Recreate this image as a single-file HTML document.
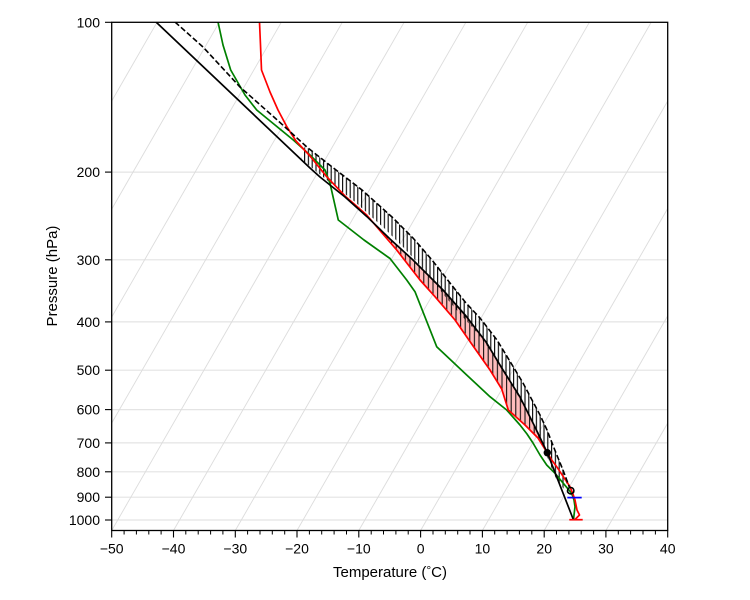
<!DOCTYPE html>
<html><head><meta charset="utf-8">
<style>html,body{margin:0;padding:0;background:#fff}svg{display:block}</style>
</head>
<body>
<svg width="750" height="600" viewBox="0 0 750 600" xmlns="http://www.w3.org/2000/svg" font-family="'Liberation Sans', Arial, sans-serif">
<defs>
  <clipPath id="c"><rect x="111.7" y="22.3" width="556" height="508.2"/></clipPath>
  <pattern id="vh" width="3.8" height="20" patternUnits="userSpaceOnUse">
    <line x1="0.6" y1="0" x2="0.6" y2="20" stroke="#000" stroke-width="1.1"/>
  </pattern>
  <pattern id="vh2" width="4.6" height="20" patternUnits="userSpaceOnUse">
    <line x1="0.6" y1="0" x2="0.6" y2="20" stroke="#000" stroke-width="1"/>
  </pattern>
</defs>
<rect width="750" height="600" fill="#fff"/>
<g clip-path="url(#c)">
  <!-- horizontal grid -->
  <g stroke="#e4e4e4" stroke-width="1.2">
    <line x1="111.7" x2="667.7" y1="172.1" y2="172.1"/>
    <line x1="111.7" x2="667.7" y1="259.8" y2="259.8"/>
    <line x1="111.7" x2="667.7" y1="321.9" y2="321.9"/>
    <line x1="111.7" x2="667.7" y1="370.2" y2="370.2"/>
    <line x1="111.7" x2="667.7" y1="409.6" y2="409.6"/>
    <line x1="111.7" x2="667.7" y1="442.9" y2="442.9"/>
    <line x1="111.7" x2="667.7" y1="471.8" y2="471.8"/>
    <line x1="111.7" x2="667.7" y1="497.2" y2="497.2"/>
    <line x1="111.7" x2="667.7" y1="520.0" y2="520.0"/>
  </g>
  <!-- isotherms -->
  <g stroke="#dcdcdc" stroke-width="0.9">
    <line x1="-135.4" y1="530.5" x2="157.0" y2="22.3"/>
    <line x1="-73.2" y1="530.5" x2="219.2" y2="22.3"/>
    <line x1="-11.1" y1="530.5" x2="281.3" y2="22.3"/>
    <line x1="49.9" y1="530.5" x2="342.3" y2="22.3"/>
    <line x1="111.7" y1="530.5" x2="404.1" y2="22.3"/>
    <line x1="173.5" y1="530.5" x2="465.9" y2="22.3"/>
    <line x1="235.3" y1="530.5" x2="527.7" y2="22.3"/>
    <line x1="297.0" y1="530.5" x2="589.4" y2="22.3"/>
    <line x1="358.8" y1="530.5" x2="651.2" y2="22.3"/>
    <line x1="420.6" y1="530.5" x2="713.0" y2="22.3"/>
    <line x1="482.4" y1="530.5" x2="774.8" y2="22.3"/>
    <line x1="544.2" y1="530.5" x2="836.6" y2="22.3"/>
    <line x1="605.9" y1="530.5" x2="898.3" y2="22.3"/>
  </g>

  <!-- pink CAPE region -->
  <polygon fill="#ffbcbc" stroke="none" points="367,216.7 390,239 413,260 443,290 466,316 486,342 503,370 520,397 534,425 547.3,452.7 546.5,451.5 538,438 525,425 508.3,410 501.7,389 490,370 471,343 455,320 435,296.7 420,280 396.7,250 382,233 366.7,215"/>
  <polygon fill="url(#vh2)" stroke="none" points="367,216.7 390,239 413,260 443,290 466,316 486,342 503,370 520,397 534,425 547.3,452.7 546.5,451.5 538,438 525,425 508.3,410 501.7,389 490,370 471,343 455,320 435,296.7 420,280 396.7,250 382,233 366.7,215"/>

  <!-- ticked strip under dashed line -->
  <polygon fill="url(#vh)" stroke="none" points="305,146 336,170 362,190 392,217 413,238 432,260 450,283 466,303 480,318 497,340 514,368 523,383 532,400 540,415 547,430 556,453 563,470 567,482 564,489 557,481 550,464 541,441 534,426 526,411 517,394 508,379 491,351 474,329 460,314 443,294 425,271 405,249 384,228 354,201 328,181 301,159"/>

  <!-- green dewpoint -->
  <polyline fill="none" stroke="#008000" stroke-width="1.7" stroke-linejoin="round" points="218,22 223,45 230.7,70 245,95 256.7,110 275,125 293.3,140 310,155 325,170 330,183.3 338.3,220 364,240 390,258.5 406.7,280 415,291.7 436.7,346.7 466.7,375 490,396.7 506.7,410 520,425 527,434 533,443 540,455 546.7,465 555,473.3 563.3,483.3 571.7,493.3 574,500 575,506.7 573.5,519.5"/>

  <!-- red temperature -->
  <polyline fill="none" stroke="#ff0000" stroke-width="1.7" stroke-linejoin="round" points="259.5,22 260.5,45 261.5,70 270,92 278,110 287,127 296,141 310,156 326.7,176.7 345,196 366.7,215 382,233 396.7,250 420,280 435,296.7 455,320 471,343 490,370 501.7,389 508.3,410 525,425 538,438 546.5,451.5 551.7,460 556.7,466.7 563.3,476.7 570,486.7 573.3,495 575,500 577,510 579.5,515 575,519.5"/>

  <!-- black parcel -->
  <polyline fill="none" stroke="#000" stroke-width="1.7" stroke-linejoin="round" points="156,22 310,168 320,177 345,197 367,216.7 390,239 413,260 443,290 466,316 486,342 503,370 520,397 534,425 547.3,452.7 573.5,520"/>

  <!-- dashed -->
  <polyline fill="none" stroke="#000" stroke-width="1.6" stroke-dasharray="5.5 2.5" points="175,22 203,47 240,87 275,118 308,148 336,170 362,190 392,217 413,238 432,260 450,283 466,303 480,318 497,340 514,368 523,383 532,400 540,415 547,430 556,453 563,470 569.5,487.5"/>

  <!-- markers -->
  <circle cx="547.3" cy="452.7" r="3.7" fill="#000"/>
  <circle cx="570.7" cy="490.7" r="3.2" fill="none" stroke="#000" stroke-width="1.6"/>
  <line x1="567.3" y1="497.6" x2="581.7" y2="497.6" stroke="#0000ff" stroke-width="1.7"/>
  <line x1="569.3" y1="519.7" x2="582.7" y2="519.7" stroke="#ff0000" stroke-width="1.7"/>
</g>

<!-- spines -->
<rect x="111.7" y="22.3" width="556" height="508.2" fill="none" stroke="#000" stroke-width="1.3"/>

<!-- bottom ticks -->
<g stroke="#000" stroke-width="1.1">
  <line x1="111.7" y1="530.5" x2="111.7" y2="537.5"/>
  <line x1="173.5" y1="530.5" x2="173.5" y2="537.5"/>
  <line x1="235.3" y1="530.5" x2="235.3" y2="537.5"/>
  <line x1="297.0" y1="530.5" x2="297.0" y2="537.5"/>
  <line x1="358.8" y1="530.5" x2="358.8" y2="537.5"/>
  <line x1="420.6" y1="530.5" x2="420.6" y2="537.5"/>
  <line x1="482.4" y1="530.5" x2="482.4" y2="537.5"/>
  <line x1="544.2" y1="530.5" x2="544.2" y2="537.5"/>
  <line x1="605.9" y1="530.5" x2="605.9" y2="537.5"/>
  <line x1="667.7" y1="530.5" x2="667.7" y2="537.5"/>
</g>
<g stroke="#000" stroke-width="1">
  <line x1="124.1" y1="530.5" x2="124.1" y2="534.5"/>
  <line x1="136.4" y1="530.5" x2="136.4" y2="534.5"/>
  <line x1="148.8" y1="530.5" x2="148.8" y2="534.5"/>
  <line x1="161.1" y1="530.5" x2="161.1" y2="534.5"/>
  <line x1="185.8" y1="530.5" x2="185.8" y2="534.5"/>
  <line x1="198.2" y1="530.5" x2="198.2" y2="534.5"/>
  <line x1="210.6" y1="530.5" x2="210.6" y2="534.5"/>
  <line x1="222.9" y1="530.5" x2="222.9" y2="534.5"/>
  <line x1="247.6" y1="530.5" x2="247.6" y2="534.5"/>
  <line x1="260.0" y1="530.5" x2="260.0" y2="534.5"/>
  <line x1="272.3" y1="530.5" x2="272.3" y2="534.5"/>
  <line x1="284.7" y1="530.5" x2="284.7" y2="534.5"/>
  <line x1="309.4" y1="530.5" x2="309.4" y2="534.5"/>
  <line x1="321.7" y1="530.5" x2="321.7" y2="534.5"/>
  <line x1="334.1" y1="530.5" x2="334.1" y2="534.5"/>
  <line x1="346.5" y1="530.5" x2="346.5" y2="534.5"/>
  <line x1="371.2" y1="530.5" x2="371.2" y2="534.5"/>
  <line x1="383.5" y1="530.5" x2="383.5" y2="534.5"/>
  <line x1="395.9" y1="530.5" x2="395.9" y2="534.5"/>
  <line x1="408.2" y1="530.5" x2="408.2" y2="534.5"/>
  <line x1="433.0" y1="530.5" x2="433.0" y2="534.5"/>
  <line x1="445.3" y1="530.5" x2="445.3" y2="534.5"/>
  <line x1="457.7" y1="530.5" x2="457.7" y2="534.5"/>
  <line x1="470.0" y1="530.5" x2="470.0" y2="534.5"/>
  <line x1="494.7" y1="530.5" x2="494.7" y2="534.5"/>
  <line x1="507.1" y1="530.5" x2="507.1" y2="534.5"/>
  <line x1="519.4" y1="530.5" x2="519.4" y2="534.5"/>
  <line x1="531.8" y1="530.5" x2="531.8" y2="534.5"/>
  <line x1="556.5" y1="530.5" x2="556.5" y2="534.5"/>
  <line x1="568.9" y1="530.5" x2="568.9" y2="534.5"/>
  <line x1="581.2" y1="530.5" x2="581.2" y2="534.5"/>
  <line x1="593.6" y1="530.5" x2="593.6" y2="534.5"/>
  <line x1="618.3" y1="530.5" x2="618.3" y2="534.5"/>
  <line x1="630.6" y1="530.5" x2="630.6" y2="534.5"/>
  <line x1="643.0" y1="530.5" x2="643.0" y2="534.5"/>
  <line x1="655.4" y1="530.5" x2="655.4" y2="534.5"/>
</g>

<!-- left ticks -->
<g stroke="#000" stroke-width="1.1">
  <line x1="105" y1="22.3" x2="111.7" y2="22.3"/>
  <line x1="105" y1="172.1" x2="111.7" y2="172.1"/>
  <line x1="105" y1="259.8" x2="111.7" y2="259.8"/>
  <line x1="105" y1="321.9" x2="111.7" y2="321.9"/>
  <line x1="105" y1="370.2" x2="111.7" y2="370.2"/>
  <line x1="105" y1="409.6" x2="111.7" y2="409.6"/>
  <line x1="105" y1="442.9" x2="111.7" y2="442.9"/>
  <line x1="105" y1="471.8" x2="111.7" y2="471.8"/>
  <line x1="105" y1="497.2" x2="111.7" y2="497.2"/>
  <line x1="105" y1="520.0" x2="111.7" y2="520.0"/>
</g>

<!-- y tick labels -->
<g font-size="14" fill="#000" text-anchor="end">
  <text x="100" y="27.3">100</text>
  <text x="100" y="177.1">200</text>
  <text x="100" y="264.8">300</text>
  <text x="100" y="326.9">400</text>
  <text x="100" y="375.2">500</text>
  <text x="100" y="414.6">600</text>
  <text x="100" y="447.9">700</text>
  <text x="100" y="476.8">800</text>
  <text x="100" y="502.2">900</text>
  <text x="100" y="525.0">1000</text>
</g>

<!-- x tick labels -->
<g font-size="14" fill="#000" text-anchor="middle">
  <text x="111.7" y="553.5">−50</text>
  <text x="173.5" y="553.5">−40</text>
  <text x="235.3" y="553.5">−30</text>
  <text x="297.0" y="553.5">−20</text>
  <text x="358.8" y="553.5">−10</text>
  <text x="420.6" y="553.5">0</text>
  <text x="482.4" y="553.5">10</text>
  <text x="544.2" y="553.5">20</text>
  <text x="605.9" y="553.5">30</text>
  <text x="667.7" y="553.5">40</text>
</g>

<!-- axis labels -->
<text x="390" y="577" font-size="15" text-anchor="middle" fill="#000">Temperature (<tspan font-size="12" dy="-3">°</tspan><tspan dy="3">C)</tspan></text>
<text transform="translate(57,276) rotate(-90)" font-size="15" text-anchor="middle" fill="#000">Pressure (hPa)</text>
</svg>
</body></html>
